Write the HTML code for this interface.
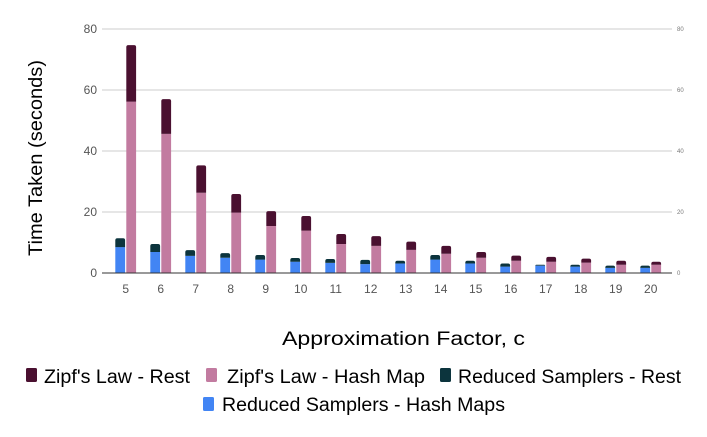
<!DOCTYPE html>
<html><head><meta charset="utf-8"><style>
html,body{margin:0;padding:0;background:#fff;}
svg{display:block;font-family:"Liberation Sans",Arial,sans-serif;}
</style></head><body>
<svg id="chart" width="707" height="437" viewBox="0 0 707 437">
<g id="grid"></g>
<g id="bars"></g>
<g id="axes"></g>
<text x="42" y="158" transform="rotate(-90 42 158)" text-anchor="middle" font-size="19" fill="#000" textLength="196" lengthAdjust="spacingAndGlyphs">Time Taken (seconds)</text>
<text x="282" y="345" font-size="19" fill="#000" textLength="243" lengthAdjust="spacingAndGlyphs">Approximation Factor, c</text>
<g>
<g><rect x="26" y="368" width="11" height="14" rx="1.5" fill="#4a1030"/><text x="44" y="383" font-size="19" textLength="146" lengthAdjust="spacingAndGlyphs">Zipf's Law - Rest</text></g>
<g><rect x="206" y="368" width="11" height="14" rx="1.5" fill="#c27ba0"/><text x="227" y="383" font-size="19" textLength="198" lengthAdjust="spacingAndGlyphs">Zipf's Law - Hash Map</text></g>
<g><rect x="440" y="368" width="11" height="14" rx="1.5" fill="#0c343d"/><text x="458" y="383" font-size="19" textLength="223" lengthAdjust="spacingAndGlyphs">Reduced Samplers - Rest</text></g>
<g><rect x="203" y="397" width="11" height="14" rx="1.5" fill="#4285f4"/><text x="222" y="411" font-size="19" textLength="283" lengthAdjust="spacingAndGlyphs">Reduced Samplers - Hash Maps</text></g>
</g>
</svg>
<script>
const categories = [5,6,7,8,9,10,11,12,13,14,15,16,17,18,19,20];
const reducedHash = [8.5,6.9,5.6,5.0,4.4,3.7,3.3,2.9,3.1,4.4,3.1,2.1,2.4,2.1,1.7,1.7];
const reducedRest = [2.9,2.6,1.9,1.5,1.5,1.2,1.3,1.4,0.9,1.5,0.9,1.0,0.3,0.6,0.7,0.7];
const zipfHash = [56.2,45.6,26.3,19.8,15.4,13.9,9.5,8.9,7.6,6.3,5.0,4.0,3.7,3.4,2.7,2.7];
const zipfRest = [18.5,11.4,9.0,6.1,4.9,4.8,3.3,3.2,2.7,2.6,1.9,1.7,1.6,1.3,1.3,1.0];
const yTicks = [0,20,40,60,80];

const NS="http://www.w3.org/2000/svg";
const y0=273, y1=29, vmax=80;
function yScale(v){return y0-(v/vmax)*(y0-y1);}
function xCenter(i){return 125.7+i*35;}
function mk(tag,attrs,parent){const e=document.createElementNS(NS,tag);for(const k in attrs)e.setAttribute(k,attrs[k]);parent.appendChild(e);return e;}
const grid=document.getElementById('grid'),bars=document.getElementById('bars'),axes=document.getElementById('axes');
yTicks.forEach(t=>{
  const y=yScale(t);
  if(t>0){const l=mk('line',{x1:102,x2:672,y1:y,y2:y,stroke:'#ccc','stroke-width':1},grid);
  
  }
  const tl=mk('text',{x:97,y:y+4,'text-anchor':'end','font-size':12,fill:'#555'},axes);tl.textContent=t;
  
  
  const tr=mk('text',{x:677,y:y+2,'font-size':6,fill:'#777'},axes);tr.textContent=t;
  
  
});
function seg(x,w,b,t,color,round,name){
  const yt=yScale(t),yb=yScale(b);const h=yb-yt;if(h<=0)return;
  let el;
  if(round){const r=Math.min(2,h);
    el=mk('path',{d:`M${x},${yb}V${yt+r}Q${x},${yt} ${x+r},${yt}H${x+w-r}Q${x+w},${yt} ${x+w},${yt+r}V${yb}Z`,fill:color},bars);}
  else el=mk('rect',{x:x,y:yt,width:w,height:h,fill:color},bars);
  
  
}
categories.forEach((c,i)=>{
  const cx=xCenter(i),w=9.8;
  const bx=cx-w-0.6,px=cx+0.6;
  seg(bx,w,0,reducedHash[i],'#4285f4',false,'bar-reduced-hash-'+c);
  seg(bx,w,reducedHash[i],reducedHash[i]+reducedRest[i],'#0c343d',true,'bar-reduced-rest-'+c);
  seg(px,w,0,zipfHash[i],'#c27ba0',false,'bar-zipf-hash-'+c);
  seg(px,w,zipfHash[i],zipfHash[i]+zipfRest[i],'#4a1030',true,'bar-zipf-rest-'+c);
  const t=mk('text',{x:cx,y:293,'text-anchor':'middle','font-size':12,fill:'#555'},axes);t.textContent=c;
  
  
});
const base=mk('line',{x1:102,x2:672,y1:y0,y2:y0,stroke:'#333','stroke-width':1},axes);


</script>
</body></html>
